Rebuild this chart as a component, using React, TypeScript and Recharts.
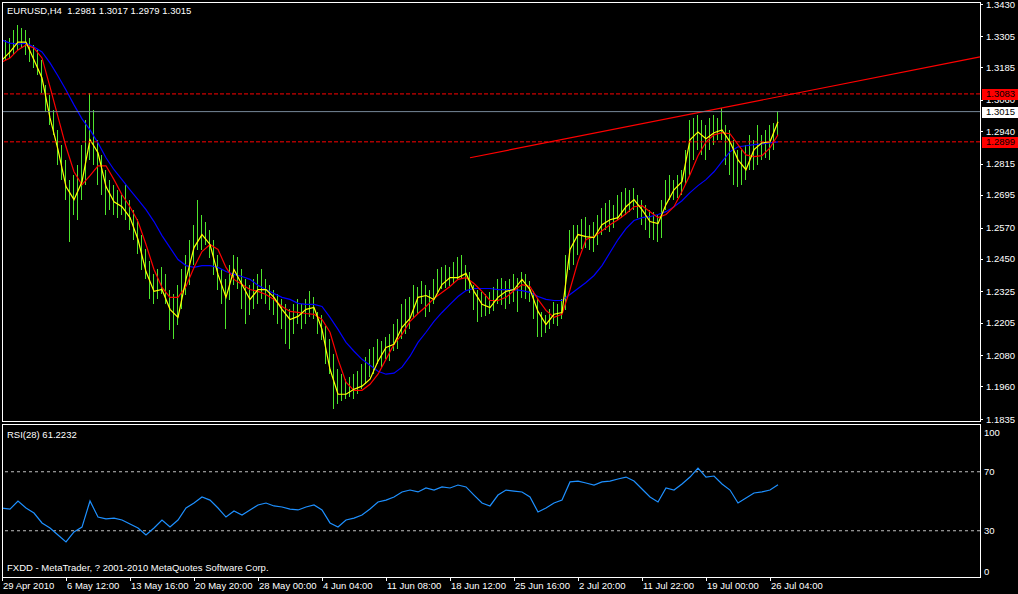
import React from 'react';
import { Bar, ComposedChart, Line, ReferenceLine, XAxis, YAxis } from 'recharts';

// H4 bars, one every second bar of the picture (bar index step 2)
const barHigh = [
  1.3271, 1.3290, 1.3297, 1.3328, 1.3347, 1.3336, 1.3328, 1.3297,
  1.3271, 1.3252, 1.3213, 1.3117, 1.3079, 1.3022, 1.2945, 1.2888, 1.2830, 1.2754,
  1.2773, 1.2811, 1.2888, 1.2983, 1.3087, 1.3022, 1.2907, 1.2850, 1.2792, 1.2754,
  1.2735, 1.2716, 1.2696, 1.2735, 1.2677, 1.2639, 1.2601, 1.2543, 1.2486,
  1.2440, 1.2390, 1.2409, 1.2417, 1.2390, 1.2332, 1.2313, 1.2351, 1.2409, 1.2466,
  1.2524, 1.2581, 1.2677, 1.2620, 1.2593, 1.2562, 1.2524, 1.2466, 1.2409, 1.2371,
  1.2428, 1.2466, 1.2455, 1.2409, 1.2371, 1.2351, 1.2371, 1.2390, 1.2409, 1.2371,
  1.2351, 1.2332, 1.2313, 1.2294, 1.2275, 1.2256, 1.2275, 1.2294,
  1.2275, 1.2294, 1.2325, 1.2302, 1.2244, 1.2236, 1.2191, 1.2141, 1.2083, 1.2026,
  1.2006, 1.1987, 1.1995, 1.2006, 1.2018, 1.2045, 1.2072, 1.2102, 1.2110, 1.2141,
  1.2133, 1.2148, 1.2160, 1.2198, 1.2217, 1.2275, 1.2294, 1.2302, 1.2351, 1.2340,
  1.2363, 1.2351, 1.2332, 1.2371, 1.2409, 1.2417, 1.2428, 1.2417, 1.2436, 1.2455,
  1.2466, 1.2428, 1.2401, 1.2351, 1.2332, 1.2321, 1.2313, 1.2321, 1.2340, 1.2371,
  1.2378, 1.2363, 1.2371, 1.2390, 1.2378, 1.2401, 1.2390, 1.2363, 1.2325, 1.2294,
  1.2244, 1.2236, 1.2256, 1.2283, 1.2275, 1.2294, 1.2466, 1.2562, 1.2581, 1.2581,
  1.2601, 1.2612, 1.2581, 1.2593, 1.2620, 1.2646, 1.2666, 1.2677, 1.2658, 1.2696,
  1.2708, 1.2723, 1.2716, 1.2723, 1.2696, 1.2677, 1.2658, 1.2639, 1.2631, 1.2620,
  1.2677, 1.2754, 1.2773, 1.2754, 1.2773, 1.2792, 1.2869, 1.2983, 1.2991, 1.3003,
  1.2983, 1.2964, 1.2991, 1.3003, 1.2991, 1.3029, 1.2964, 1.2945, 1.2907, 1.2869,
  1.2869, 1.2888, 1.2926, 1.2907, 1.2964, 1.2926, 1.2945, 1.2964, 1.2972, 1.3017,
];

const barLow = [
  1.3206, 1.3213, 1.3221, 1.3232, 1.3252, 1.3259, 1.3232, 1.3206,
  1.3183, 1.3156, 1.3087, 1.3014, 1.2964, 1.2926, 1.2811, 1.2754, 1.2677, 1.2516,
  1.2620, 1.2601, 1.2677, 1.2735, 1.2830, 1.2811, 1.2735, 1.2696, 1.2620, 1.2639,
  1.2620, 1.2608, 1.2620, 1.2601, 1.2562, 1.2524, 1.2466, 1.2409, 1.2371,
  1.2294, 1.2275, 1.2294, 1.2313, 1.2275, 1.2179, 1.2141, 1.2198, 1.2256, 1.2313,
  1.2351, 1.2428, 1.2486, 1.2486, 1.2505, 1.2455, 1.2390, 1.2332, 1.2275, 1.2179,
  1.2294, 1.2351, 1.2332, 1.2256, 1.2198, 1.2236, 1.2256, 1.2275, 1.2294, 1.2275,
  1.2256, 1.2236, 1.2198, 1.2179, 1.2121, 1.2102, 1.2160, 1.2198,
  1.2179, 1.2198, 1.2225, 1.2217, 1.2160, 1.2141, 1.2045, 1.2006, 1.1873, 1.1892,
  1.1903, 1.1911, 1.1919, 1.1911, 1.1930, 1.1949, 1.1968, 1.1995, 1.2006, 1.2045,
  1.2034, 1.2064, 1.2057, 1.2095, 1.2102, 1.2141, 1.2160, 1.2179, 1.2225, 1.2236,
  1.2275, 1.2229, 1.2248, 1.2275, 1.2321, 1.2332, 1.2340, 1.2344, 1.2351, 1.2371,
  1.2378, 1.2332, 1.2321, 1.2256, 1.2210, 1.2225, 1.2229, 1.2236, 1.2248, 1.2275,
  1.2275, 1.2256, 1.2275, 1.2283, 1.2248, 1.2302, 1.2294, 1.2283, 1.2217, 1.2148,
  1.2148, 1.2168, 1.2179, 1.2198, 1.2191, 1.2217, 1.2256, 1.2409, 1.2428, 1.2466,
  1.2486, 1.2493, 1.2486, 1.2478, 1.2505, 1.2543, 1.2562, 1.2554, 1.2570, 1.2601,
  1.2608, 1.2620, 1.2631, 1.2639, 1.2608, 1.2581, 1.2562, 1.2531, 1.2524, 1.2516,
  1.2531, 1.2639, 1.2677, 1.2677, 1.2685, 1.2696, 1.2735, 1.2773, 1.2830, 1.2869,
  1.2850, 1.2830, 1.2869, 1.2888, 1.2907, 1.2907, 1.2811, 1.2773, 1.2735, 1.2727,
  1.2735, 1.2754, 1.2792, 1.2792, 1.2811, 1.2830, 1.2838, 1.2830, 1.2869, 1.2926,
];

// moving averages and RSI, read every fourth bar
const fastMA = [
  1.3213, 1.3244, 1.3282, 1.3282, 1.3213, 1.3144, 1.2991, 1.2869, 1.2727, 1.2677,
  1.2746, 1.2907, 1.2857, 1.2727, 1.2669, 1.2650, 1.2608, 1.2524, 1.2401, 1.2325,
  1.2332, 1.2256, 1.2225, 1.2371, 1.2493, 1.2543, 1.2505, 1.2390, 1.2302, 1.2409,
  1.2351, 1.2294, 1.2332, 1.2332, 1.2302, 1.2256, 1.2217, 1.2229, 1.2256, 1.2263,
  1.2179, 1.2026, 1.1930, 1.1930, 1.1949, 1.1961, 1.1988, 1.2057, 1.2110, 1.2122,
  1.2187, 1.2221, 1.2302, 1.2309, 1.2294, 1.2351, 1.2378, 1.2378, 1.2394, 1.2325,
  1.2275, 1.2263, 1.2302, 1.2325, 1.2332, 1.2371, 1.2332, 1.2248, 1.2198, 1.2237,
  1.2244, 1.2486, 1.2543, 1.2535, 1.2531, 1.2581, 1.2600, 1.2608, 1.2650, 1.2677,
  1.2639, 1.2593, 1.2585, 1.2658, 1.2715, 1.2746, 1.2907, 1.2937, 1.2911, 1.2934,
  1.2945, 1.2899, 1.2830, 1.2792, 1.2869, 1.2895, 1.2899, 1.2976,
];

const midMA = [
  1.3206, 1.3221, 1.3252, 1.3271, 1.3259, 1.3221, 1.3110, 1.2995, 1.2880, 1.2784,
  1.2734, 1.2769, 1.2807, 1.2807, 1.2754, 1.2696, 1.2650, 1.2593, 1.2505, 1.2409,
  1.2340, 1.2302, 1.2302, 1.2344, 1.2417, 1.2478, 1.2505, 1.2486, 1.2417, 1.2371,
  1.2351, 1.2332, 1.2325, 1.2313, 1.2294, 1.2267, 1.2248, 1.2244, 1.2240, 1.2237,
  1.2217, 1.2168, 1.2064, 1.1976, 1.1945, 1.1945, 1.1968, 1.2007, 1.2064, 1.2122,
  1.2160, 1.2210, 1.2240, 1.2267, 1.2298, 1.2321, 1.2344, 1.2371, 1.2378, 1.2355,
  1.2325, 1.2290, 1.2290, 1.2302, 1.2328, 1.2351, 1.2344, 1.2294, 1.2252, 1.2225,
  1.2237, 1.2332, 1.2440, 1.2524, 1.2535, 1.2558, 1.2581, 1.2600, 1.2623, 1.2650,
  1.2654, 1.2631, 1.2608, 1.2620, 1.2650, 1.2708, 1.2773, 1.2846, 1.2899, 1.2926,
  1.2934, 1.2930, 1.2888, 1.2849, 1.2842, 1.2846, 1.2876, 1.2926,
];

const slowMA = [
  1.3290, 1.3278, 1.3274, 1.3278, 1.3263, 1.3244, 1.3202, 1.3152, 1.3098, 1.3041,
  1.2987, 1.2945, 1.2895, 1.2838, 1.2792, 1.2754, 1.2715, 1.2677, 1.2639, 1.2593,
  1.2539, 1.2493, 1.2447, 1.2424, 1.2417, 1.2424, 1.2424, 1.2417, 1.2401, 1.2390,
  1.2382, 1.2371, 1.2348, 1.2332, 1.2317, 1.2302, 1.2294, 1.2279, 1.2275, 1.2275,
  1.2267, 1.2225, 1.2179, 1.2129, 1.2095, 1.2064, 1.2041, 1.2018, 1.2007, 1.2011,
  1.2034, 1.2076, 1.2129, 1.2168, 1.2210, 1.2244, 1.2275, 1.2305, 1.2328, 1.2336,
  1.2336, 1.2336, 1.2332, 1.2332, 1.2332, 1.2328, 1.2321, 1.2305, 1.2294, 1.2290,
  1.2290, 1.2313, 1.2336, 1.2359, 1.2386, 1.2424, 1.2474, 1.2524, 1.2566, 1.2597,
  1.2608, 1.2612, 1.2620, 1.2631, 1.2650, 1.2673, 1.2704, 1.2731, 1.2754, 1.2784,
  1.2823, 1.2861, 1.2880, 1.2884, 1.2888, 1.2891, 1.2895, 1.2899,
];

const rsi28 = [
  45.4, 44.7, 50.2, 45.4, 42.0, 35.3, 31.9, 27.1, 22.4, 29.2,
  32.5, 50.2, 39.3, 38.0, 38.6, 37.3, 34.6, 31.9, 27.1, 31.9,
  37.3, 32.5, 37.3, 45.4, 48.8, 52.9, 50.8, 45.4, 39.3, 43.4,
  40.7, 44.1, 47.5, 48.8, 46.8, 46.1, 44.7, 44.1, 46.1, 47.5,
  44.1, 35.3, 32.5, 37.3, 38.6, 40.7, 44.7, 49.5, 50.8, 52.9,
  56.3, 57.6, 56.3, 59.0, 57.6, 59.7, 59.0, 61.0, 59.7, 54.2,
  48.8, 46.8, 54.2, 57.6, 56.9, 56.3, 52.9, 42.7, 45.4, 48.8,
  50.8, 63.1, 63.7, 62.4, 61.0, 63.1, 63.7, 65.1, 66.4, 63.7,
  58.3, 52.9, 49.5, 59.0, 57.6, 61.7, 66.4, 72.5, 66.4, 67.1,
  61.7, 57.6, 48.8, 52.2, 55.6, 56.3, 57.6, 61.2,
];

const priceTicks = [
  1.343, 1.3305, 1.3185, 1.306, 1.294, 1.2815, 1.2695, 1.257, 1.245, 1.2325,
  1.2205, 1.208, 1.196, 1.1835,
];
const rsiTicks = [0, 30, 70, 100];
const timeTickBars = [0, 32, 64, 96, 128, 160, 192, 224, 256, 288, 320, 352, 384];
const timeLabels = [
  '29 Apr 2010', '6 May 12:00', '13 May 16:00', '20 May 20:00', '28 May 00:00',
  '4 Jun 04:00', '11 Jun 08:00', '18 Jun 12:00', '25 Jun 16:00', '2 Jul 20:00',
  '11 Jul 22:00', '19 Jul 00:00', '26 Jul 04:00',
];

const upperLevel = 1.3083;
const lowerLevel = 1.2899;
const bidPrice = 1.3015;
const trendFrom = { bar: 234, price: 1.2838 };
const trendTo = { bar: 489, price: 1.3225 };

const rows = barHigh.map((h, k) => ({
  bar: k * 2,
  range: [barLow[k], h],
  fast: k % 2 === 0 ? fastMA[k / 2] : null,
  mid: k % 2 === 0 ? midMA[k / 2] : null,
  slow: k % 2 === 0 ? slowMA[k / 2] : null,
  rsi: k % 2 === 0 ? rsi28[k / 2] : null,
}));

const FONT = '"Liberation Sans", Arial, sans-serif';
const FS = 9.5;
const PRICE_DOMAIN: [number, number] = [1.1835, 1.3432];
const MAIN_MARGIN = { top: 3, right: 0, bottom: 5, left: 2 };

const BarStick = (props: any) => {
  const { x, y, width, height } = props;
  if (x == null || y == null) return null;
  const cx = Math.round(x + width / 2 - 0.5);
  const top = Math.round(Math.min(y, y + height));
  const h = Math.max(1, Math.round(Math.abs(height)));
  return <rect x={cx} y={top} width={1} height={h} fill="#4ee62c" />;
};

const PriceTick = (props: any) => {
  const { x, y, payload } = props;
  const ly = Math.round(y) + 0.5;
  const shift = y < 6 ? 1 : 0;
  return (
    <g>
      <line x1={x} y1={ly} x2={x + 3} y2={ly} stroke="#fff" />
      <text x={x + 6} y={y + 3.5 + shift} fill="#fff" fontSize={FS} fontFamily={FONT}>
        {Number(payload.value).toFixed(4)}
      </text>
    </g>
  );
};

const RsiTick = (props: any) => {
  const { x, y, payload } = props;
  const v = payload.value;
  const shift = v === 100 ? 4.5 : v === 0 ? -4 : 0;
  return (
    <text x={x + 4} y={y + shift + 3.5} fill="#fff" fontSize={FS} fontFamily={FONT}>
      {v}
    </text>
  );
};

const TimeTick = (props: any) => {
  const { x, y, payload } = props;
  const n = timeTickBars.indexOf(payload.value);
  const px = Math.round(x) + 0.5;
  return (
    <g>
      <line x1={px} y1={y + 2} x2={px} y2={y + 6} stroke="#fff" />
      <text x={x + 1} y={y + 14} fill="#fff" fontSize={FS} fontFamily={FONT}>
        {timeLabels[n]}
      </text>
    </g>
  );
};

const priceBox = (value: number, bg: string, fg: string) => (props: any) => {
  const vb = props.viewBox;
  if (!vb) return null;
  const x = vb.x + vb.width + 2;
  const y = vb.y;
  return (
    <g>
      <rect x={x} y={Math.round(y) - 5} width={36} height={11} fill={bg} />
      <text x={x + 4} y={y + 3.5} fill={fg} fontSize={FS} fontFamily={FONT}>
        {value.toFixed(4)}
      </text>
    </g>
  );
};

export default function App() {
  return (
    <div
      style={{
        position: 'absolute',
        left: 0,
        top: 0,
        width: 1018,
        height: 594,
        background: '#000',
        overflow: 'hidden',
      }}
    >
      <div style={{ position: 'absolute', left: 0, top: 0 }}>
        <ComposedChart width={1018} height={424} data={rows} margin={MAIN_MARGIN}>
          <XAxis type="number" dataKey="bar" domain={[0, 489]} hide allowDataOverflow />
          <YAxis
            orientation="right"
            width={38}
            domain={PRICE_DOMAIN}
            ticks={priceTicks}
            interval={0}
            allowDataOverflow
            axisLine={false}
            tickLine={false}
            tickSize={0}
            tickMargin={0}
            tick={<PriceTick />}
          />
          <Bar
            dataKey="range"
            barSize={1}
            fill="#4ee62c"
            shape={<BarStick />}
            isAnimationActive={false}
          />
          <Line type="linear" dataKey="slow" stroke="#0000ff" strokeWidth={1.2} dot={false} activeDot={false} connectNulls isAnimationActive={false} />
          <Line type="linear" dataKey="mid" stroke="#ff0000" strokeWidth={1.2} dot={false} activeDot={false} connectNulls isAnimationActive={false} />
          <Line type="linear" dataKey="fast" stroke="#ffff00" strokeWidth={1.2} dot={false} activeDot={false} connectNulls isAnimationActive={false} />
          <ReferenceLine
            segment={[
              { x: trendFrom.bar, y: trendFrom.price },
              { x: trendTo.bar, y: trendTo.price },
            ]}
            stroke="#ff0000"
            strokeWidth={1.2}
          />
          <ReferenceLine y={bidPrice} stroke="#778899" />
          <ReferenceLine y={upperLevel} stroke="#ff0000" strokeDasharray="4 2" />
          <ReferenceLine y={lowerLevel} stroke="#ff0000" strokeDasharray="4 2" />
        </ComposedChart>
      </div>

      {/* second layer on the same scales: price boxes drawn over the axis labels */}
      <div style={{ position: 'absolute', left: 0, top: 0, pointerEvents: 'none' }}>
        <ComposedChart width={1018} height={424} data={rows} margin={MAIN_MARGIN}>
          <XAxis type="number" dataKey="bar" domain={[0, 489]} hide allowDataOverflow />
          <YAxis
            orientation="right"
            width={38}
            domain={PRICE_DOMAIN}
            allowDataOverflow
            axisLine={false}
            tickLine={false}
            tick={false}
          />
          <ReferenceLine
            y={bidPrice}
            stroke="none"
            label={priceBox(bidPrice, '#ffffff', '#000000')}
          />
          <ReferenceLine
            y={upperLevel}
            stroke="none"
            label={priceBox(upperLevel, '#ff0000', '#000000')}
          />
          <ReferenceLine
            y={lowerLevel}
            stroke="none"
            label={priceBox(lowerLevel, '#ff0000', '#000000')}
          />
        </ComposedChart>
      </div>

      <div style={{ position: 'absolute', left: 0, top: 424 }}>
        <ComposedChart
          width={1018}
          height={170}
          data={rows}
          margin={{ top: 3.5, right: 0, bottom: 0, left: 2 }}
        >
          <XAxis
            type="number"
            dataKey="bar"
            domain={[0, 489]}
            ticks={timeTickBars}
            interval={0}
            allowDataOverflow
            height={19}
            axisLine={false}
            tickLine={false}
            tickSize={0}
            tickMargin={0}
            tick={<TimeTick />}
          />
          <YAxis
            orientation="right"
            width={38}
            domain={[0, 100]}
            ticks={rsiTicks}
            interval={0}
            axisLine={false}
            tickLine={false}
            tickSize={0}
            tickMargin={0}
            tick={<RsiTick />}
          />
          <ReferenceLine y={70} stroke="#c0c0c0" strokeDasharray="3 3" />
          <ReferenceLine y={30} stroke="#c0c0c0" strokeDasharray="3 3" />
          <Line type="linear" dataKey="rsi" stroke="#1e90ff" strokeWidth={1.2} dot={false} activeDot={false} connectNulls isAnimationActive={false} />
        </ComposedChart>
      </div>

      <svg
        width={1018}
        height={594}
        style={{ position: 'absolute', left: 0, top: 0, pointerEvents: 'none' }}
      >
        <rect x={2.5} y={2.5} width={978} height={419} fill="none" stroke="#fff" />
        <rect x={2.5} y={424.5} width={978} height={153} fill="none" stroke="#fff" />
        <text x={7} y={14} fill="#fff" fontSize={FS} fontFamily={FONT} style={{ whiteSpace: 'pre' }}>
          {'EURUSD,H4  1.2981 1.3017 1.2979 1.3015'}
        </text>
        <text x={7} y={438} fill="#fff" fontSize={FS} fontFamily={FONT}>
          RSI(28) 61.2232
        </text>
        <text x={7} y={571} fill="#fff" fontSize={FS} fontFamily={FONT}>
          FXDD - MetaTrader, ? 2001-2010 MetaQuotes Software Corp.
        </text>
      </svg>
    </div>
  );
}
